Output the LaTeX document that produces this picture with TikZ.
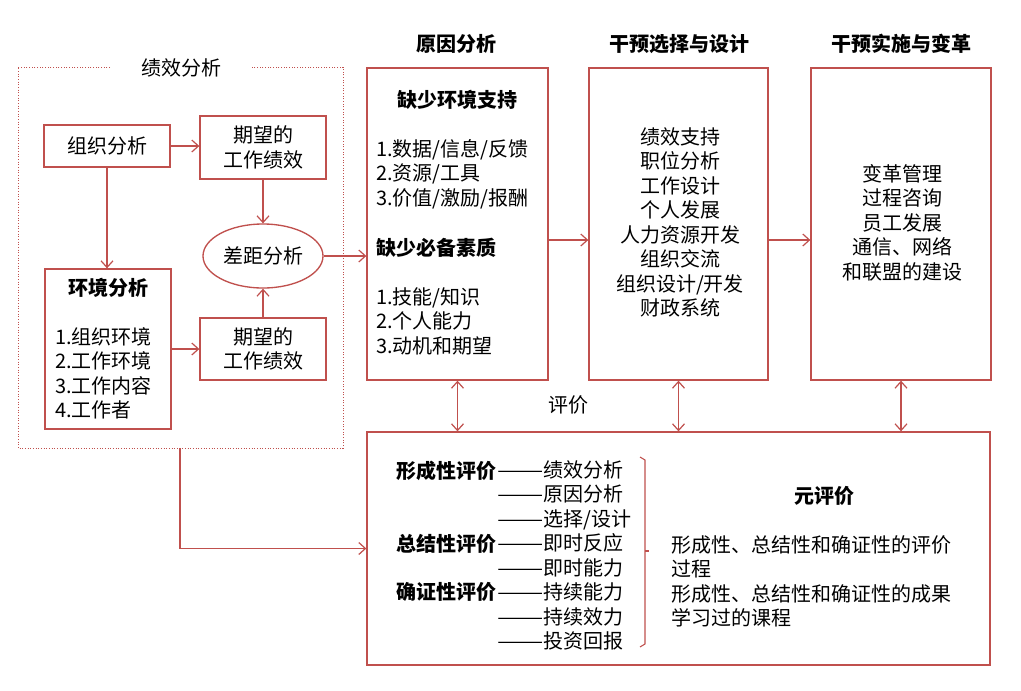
\documentclass[tikz,border=0pt]{standalone}
\usepackage{fontspec}
\usepackage{graphicx}
\setmainfont{Noto Sans CJK SC}
\usetikzlibrary{arrows.meta,shapes.geometric}
\definecolor{rl}{RGB}{192,80,77}
\newcommand\longdsh{\scalebox{1.38}[1]{——}}
\begin{document}
\begin{tikzpicture}[x=0.75pt,y=-0.75pt,
  box/.style={draw=rl,line width=1pt,inner sep=0pt},
  arr/.style={draw=rl,line width=0.9pt,-{Straight Barb[length=5pt,width=9pt]}},
  darr/.style={draw=rl,line width=0.9pt,{Straight Barb[length=5pt,width=9pt]}-{Straight Barb[length=5pt,width=9pt]}},
  txt/.style={font=\fontsize{15}{18.4}\selectfont,inner sep=0pt},
  btxt/.style={font=\fontsize{15}{18.4}\selectfont\bfseries,inner sep=0pt}]
\useasboundingbox (0,0) rectangle (1021,690);
\fill[white] (0,0) rectangle (1021,690);

% dotted group
\draw[rl,line width=0.7pt,dash pattern=on 0.7pt off 1.3pt] (110,67) -- (18,67) -- (18,448) -- (343,448) -- (343,67) -- (252,67);
\node[txt] (tjx) at (181,68) {绩效分析};

% left nodes
\node[box,txt,minimum width=94.5pt,minimum height=31.5pt] (zz) at (107,146) {组织分析};
\node[box,txt,align=center,minimum width=94.5pt,minimum height=47.25pt] (qw1) at (263,147.5) {期望的\\工作绩效};
\node[box,txt,ellipse,minimum width=90pt,minimum height=48pt] (cj) at (263,256) {差距分析};
\node[box,minimum width=94.5pt,minimum height=120pt] (hj) at (108,349) {};
\node[btxt] (hjt) at (108,288) {环境分析};
\node[txt,align=left,anchor=west] (hjl) at (55,373.5) {1.组织环境\\2.工作环境\\3.工作内容\\4.工作者};
\node[box,txt,align=center,minimum width=94.5pt,minimum height=46.5pt] (qw2) at (263,349) {期望的\\工作绩效};

\draw[arr] (zz.east) -- (qw1.west |- zz.east);
\draw[arr] (zz.south) -- (hj.north -| zz.south);
\draw[arr] (qw1.south) -- (cj.north);
\draw[arr] (qw2.north) -- (cj.south);
\draw[arr] (hj.east |- qw2.west) -- (qw2.west);

% headers
\node[btxt] (h1) at (456,44) {原因分析};
\node[btxt] (h2) at (679,44) {干预选择与设计};
\node[btxt] (h3) at (901,44) {干预实施与变革};

% top boxes
\node[box,minimum width=135.75pt,minimum height=234pt] (yy) at (457.5,224) {};
\node[box,minimum width=134.25pt,minimum height=234pt] (gx) at (678.5,224) {};
\node[box,minimum width=135pt,minimum height=234pt] (gs) at (901,224) {};

\node[btxt] (yy1) at (457,100) {缺少环境支持};
\node[txt,align=left,anchor=west] (yy2) at (376,174) {1.数据/信息/反馈\\2.资源/工具\\3.价值/激励/报酬};
\node[btxt,anchor=west] (yy3) at (376,248) {缺少必备素质};
\node[txt,align=left,anchor=west] (yy4) at (376,321) {1.技能/知识\\2.个人能力\\3.动机和期望};

\node[txt,align=center] (gxt) at (680,222.5) {绩效支持\\职位分析\\工作设计\\个人发展\\人力资源开发\\组织交流\\组织设计/开发\\财政系统};
\node[txt,align=center] (gst) at (902,222.5) {变革管理\\过程咨询\\员工发展\\通信、网络\\和联盟的建设};

% bottom box
\node[box,minimum width=467.25pt,minimum height=174.75pt] (pj) at (678.5,548.5) {};

\draw[arr] (cj.east) -- (yy.west |- cj.east);
\draw[arr] (yy.east |- 0,240) -- (gx.west |- 0,240);
\draw[arr] (gx.east |- 0,240) -- (gs.west |- 0,240);

\draw[darr] (yy.south) -- (yy.south |- pj.north);
\draw[darr] (gx.south) -- (gx.south |- pj.north);
\draw[darr] (gs.south) -- (gs.south |- pj.north);
\node[txt] (pjl) at (568,405) {评价};

\coordinate (lb) at (180,448);
\draw[arr] (lb) -- (lb |- pj.west) -- (pj.west);

% bottom contents
\node[btxt,anchor=east] (b1) at (497,471) {形成性评价};
\node[btxt,anchor=east] (b2) at (497,544) {总结性评价};
\node[btxt,anchor=east] (b3) at (497,592) {确证性评价};
\node[txt,align=left,anchor=west] (items) at (497,555.5) {\longdsh 绩效分析\\\longdsh 原因分析\\\longdsh 选择/设计\\\longdsh 即时反应\\\longdsh 即时能力\\\longdsh 持续能力\\\longdsh 持续效力\\\longdsh 投资回报};
\draw[rl,line width=0.8pt] (640,457) -- (645,460) -- (645,644) -- (640,647);
\draw[rl,line width=0.8pt] (645,551) -- (649,551);

\node[btxt] (yp) at (824,496) {元评价};
\node[txt,align=left,anchor=west] (ypt) at (671,581.5) {形成性、总结性和确证性的评价\\过程\\形成性、总结性和确证性的成果\\学习过的课程};
\end{tikzpicture}
\end{document}
